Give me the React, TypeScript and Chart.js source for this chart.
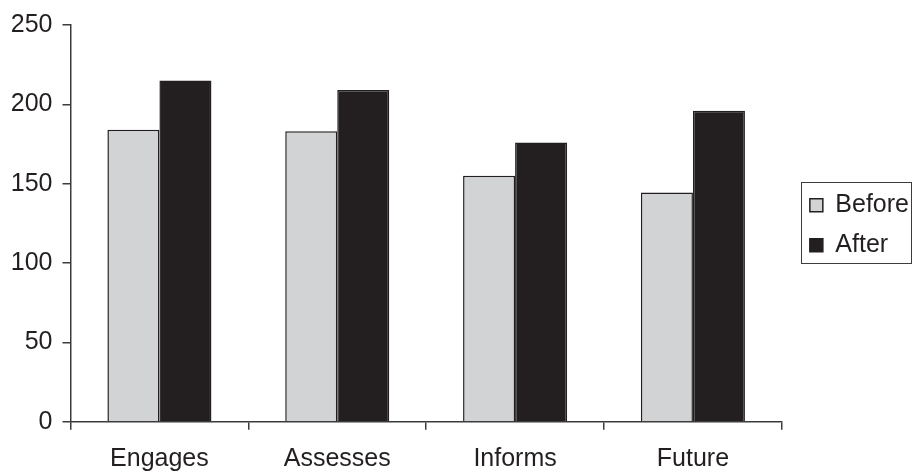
import React, { useEffect, useRef } from "react";
import { Chart, registerables } from "chart.js";

Chart.register(...registerables);

const categories = ["Engages", "Assesses", "Informs", "Future"];
const beforeValues = [184, 183, 155, 144.5];
const afterValues = [215, 209, 176, 196];
const seriesNames = ["Before", "After"];
const yTicks = [0, 50, 100, 150, 200, 250];

const INK = "#231f20";
const AXIS = "#3c3c3c";
const FONT = "'Liberation Sans', Arial, sans-serif";
const FS = 25;

const legendBorder = {
  id: "legendBorder",
  afterDraw(chart: any) {
    const lg = chart.legend;
    if (!lg || !lg.legendHitBoxes || !lg.legendHitBoxes.length) return;
    const hb = lg.legendHitBoxes;
    const left = Math.min(...hb.map((h: any) => h.left)) - 9;
    const right = Math.max(...hb.map((h: any) => h.left + h.width)) + 2;
    const top = hb[0].top - 11;
    const last = hb[hb.length - 1];
    const bottom = last.top + last.height + 5;
    const ctx = chart.ctx;
    ctx.save();
    ctx.strokeStyle = AXIS;
    ctx.lineWidth = 1;
    ctx.strokeRect(Math.round(left) + 0.5, Math.round(top) + 0.5, Math.round(right - left), Math.round(bottom - top));
    ctx.restore();
  },
};

export default function App() {
  const ref = useRef<HTMLCanvasElement | null>(null);

  useEffect(() => {
    document.body.style.margin = "0";
    if (!ref.current) return;
    const chart = new Chart(ref.current, {
      type: "bar",
      data: {
        labels: categories,
        datasets: [
          {
            label: seriesNames[0],
            data: beforeValues,
            backgroundColor: "#d1d3d4",
            borderColor: INK,
            borderWidth: 1.5,
            categoryPercentage: 0.585,
            barPercentage: 1,
            yAxisID: "y",
          },
          {
            label: seriesNames[1],
            data: afterValues,
            backgroundColor: INK,
            borderColor: INK,
            borderWidth: 1.5,
            categoryPercentage: 0.585,
            barPercentage: 1,
            yAxisID: "y",
          },
        ],
      },
      plugins: [legendBorder],
      options: {
        responsive: false,
        animation: false,
        devicePixelRatio: 1,
        layout: { padding: { top: 22, left: 0, right: 1, bottom: 0 } },
        plugins: {
          tooltip: { enabled: false },
          legend: {
            display: true,
            position: "right",
            fullSize: false,
            title: { display: true, text: "", padding: 0, font: { size: 4, lineHeight: 1 } },
            labels: {
              boxWidth: 13,
              boxHeight: 13,
              padding: 15,
              color: INK,
              font: { family: FONT, size: FS },
            },
          },
        },
        scales: {
          x: {
            type: "category",
            grid: {
              display: true,
              drawOnChartArea: false,
              drawTicks: true,
              tickLength: 8,
              color: AXIS,
              lineWidth: 1.5,
              offset: true,
            },
            border: { display: true, color: AXIS, width: 1.5 },
            ticks: {
              color: INK,
              padding: 14,
              maxRotation: 0,
              font: { family: FONT, size: FS },
            },
            afterFit: (scale: any) => {
              scale.height = 49.3;
            },
          },
          y: {
            type: "linear",
            min: yTicks[0],
            max: yTicks[yTicks.length - 1],
            afterBuildTicks: (scale: any) => {
              scale.ticks = yTicks.map((v) => ({ value: v }));
            },
            grid: {
              display: true,
              drawOnChartArea: false,
              drawTicks: true,
              tickLength: 8,
              color: AXIS,
              lineWidth: 1.5,
            },
            border: { display: true, color: AXIS, width: 1.5 },
            ticks: {
              color: INK,
              padding: 10,
              font: { family: FONT, size: FS },
            },
            afterFit: (scale: any) => {
              scale.width = 70.5;
            },
          },
          spacer: {
            type: "linear",
            position: "right",
            display: true,
            grid: { display: false, drawTicks: false },
            border: { display: false },
            ticks: { display: false },
            afterFit: (scale: any) => {
              scale.width = 13;
            },
          },
        },
      },
    } as any);
    return () => chart.destroy();
  }, []);

  return (
    <div style={{ width: 920, height: 471 }}>
      <canvas ref={ref} width={920} height={471} />
    </div>
  );
}
